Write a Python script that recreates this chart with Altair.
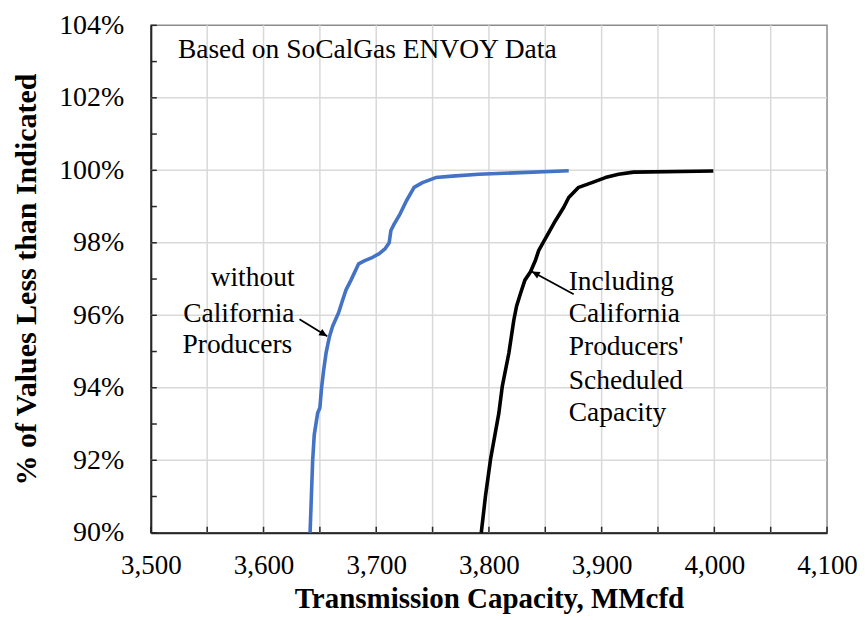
import math
import altair as alt
import pandas as pd

# ---- data ----
blue_x = [3641.3, 3643.6, 3645.0, 3648.0, 3650.0, 3651.5, 3653.4, 3655.5, 3658.4, 3661.3,
          3666.6, 3670.2, 3673.2, 3677.6, 3684.4, 3689.4, 3696.8, 3702.7, 3708.0, 3711.5,
          3713.0, 3716.0, 3721.2, 3726.8, 3733.6, 3741.0, 3752.8, 3767.5, 3791.0, 3870.8]
blue_y = [90.0, 92.0, 92.7, 93.3, 93.45, 94.0, 94.5, 94.96, 95.4, 95.7,
          96.07, 96.42, 96.7, 96.97, 97.42, 97.5, 97.6, 97.7, 97.84, 98.0,
          98.34, 98.52, 98.8, 99.16, 99.53, 99.66, 99.8, 99.84, 99.89, 99.99]

black_x = [3793.2, 3797.0, 3801.5, 3808.8, 3811.8, 3817.7, 3822.1, 3824.5, 3828.0, 3831.9,
           3836.9, 3841.3, 3844.2, 3850.7, 3859.0, 3866.4, 3870.8, 3879.6, 3891.4, 3903.3,
           3915.0, 3928.3, 3999.1]
black_y = [90.0, 91.03, 92.04, 93.3, 94.03, 94.96, 95.87, 96.25, 96.6, 96.97,
           97.2, 97.52, 97.79, 98.15, 98.61, 98.98, 99.25, 99.53, 99.66, 99.8,
           99.89, 99.95, 99.98]

x_label_values = [3500, 3600, 3700, 3800, 3900, 4000, 4100]
y_label_values = [90, 92, 94, 96, 98, 100, 102, 104]
x_grid_values = [3550, 3600, 3650, 3700, 3750, 3800, 3850, 3900, 3950, 4000, 4050]
y_grid_values = [92, 94, 96, 98, 100, 102]
x_tick_values = [3500 + 50 * i for i in range(13)]
y_tick_values = list(range(90, 105))

note_text = ["Based on SoCalGas ENVOY Data"]
note_x = [3524.0]
note_y = [103.32]

blue_label = ["without", "California", "Producers"]
blue_label_x = [3627.5, 3627.5, 3625.5]
blue_label_y = [97.04, 96.03, 95.18]

black_label = ["Including", "California", "Producers'", "Scheduled", "Capacity"]
black_label_x = [3870.8] * 5
black_label_y = [96.93, 96.03, 95.12, 94.19, 93.29]

arrows_start_x = [3631.9, 3875.2]
arrows_start_y = [95.89, 96.58]
arrows_tip_x = [3656.5, 3838.0]
arrows_tip_y = [95.42, 97.21]

# ---- layout ----
W, H = 677, 508
XMIN, XMAX, YMIN, YMAX = 3500, 4100, 90, 104
FONT = "Liberation Serif"

xs = alt.Scale(domain=[XMIN, XMAX], nice=False, zero=False)
ys = alt.Scale(domain=[YMIN, YMAX], nice=False, zero=False)

X_AX = alt.Axis(values=x_label_values, format=",d", grid=False, ticks=False,
                title="Transmission Capacity, MMcfd",
                labelPadding=20, titlePadding=6,
                labelFont=FONT, labelFontSize=27, labelColor="#000",
                titleFont=FONT, titleFontSize=29, titleFontWeight="bold",
                titleColor="#000", domainColor="#262626", domainWidth=2,
                labelFlush=False, labelOverlap=False)
Y_AX = alt.Axis(values=y_label_values, labelExpr="datum.value + '%'",
                grid=False, ticks=False,
                title="% of Values Less than Indicated",
                labelPadding=27, titlePadding=17,
                labelFont=FONT, labelFontSize=28, labelColor="#000",
                titleFont=FONT, titleFontSize=30, titleFontWeight="bold",
                titleColor="#000", domainColor="#262626", domainWidth=2,
                labelFlush=False, labelOverlap=False)


def X(field):
    return alt.X(field, scale=xs, axis=X_AX)


def Y(field):
    return alt.Y(field, scale=ys, axis=Y_AX)


series = pd.DataFrame(
    {"cap": blue_x + black_x,
     "pct": blue_y + black_y,
     "series": ["without"] * len(blue_x) + ["including"] * len(black_x),
     "order": list(range(len(blue_x))) + list(range(len(black_x)))}
)

vgrid = alt.Chart(pd.DataFrame({"gx": x_grid_values})).mark_rule(
    color="#d9d9d9", strokeWidth=1.5).encode(x=X("gx:Q"))
hgrid = alt.Chart(pd.DataFrame({"gy": y_grid_values})).mark_rule(
    color="#d9d9d9", strokeWidth=1.5).encode(y=Y("gy:Q"))

xticks = alt.Chart(pd.DataFrame({"tx": x_tick_values})).mark_rule(
    color="#262626", strokeWidth=1.5).encode(
    x=X("tx:Q"), y=alt.value(H), y2=alt.value(H - 6))
yticks = alt.Chart(pd.DataFrame({"ty": y_tick_values})).mark_rule(
    color="#262626", strokeWidth=1.5).encode(
    y=Y("ty:Q"), x=alt.value(0), x2=alt.value(6))

lines = alt.Chart(series).mark_line(strokeWidth=3.6, strokeJoin="round").encode(
    x=X("cap:Q"),
    y=Y("pct:Q"),
    color=alt.Color("series:N",
                    scale=alt.Scale(domain=["without", "including"],
                                    range=["#4472C4", "#000000"]),
                    legend=None),
    order="order:Q",
)


def text_layer(texts, tx, ty, align):
    df = pd.DataFrame({"t": texts, "x": tx, "y": ty})
    return alt.Chart(df).mark_text(
        font=FONT, fontSize=27.5, align=align, baseline="middle", color="#000").encode(
        x=X("x:Q"), y=Y("y:Q"), text="t:N")


note = text_layer(note_text, note_x, note_y, "left")
blue_txt = text_layer(blue_label, blue_label_x, blue_label_y, "right")
black_txt = text_layer(black_label, black_label_x, black_label_y, "left")

kx = W / (XMAX - XMIN)
ky = H / (YMAX - YMIN)
angles = []
for sx, sy, tx, ty in zip(arrows_start_x, arrows_start_y, arrows_tip_x, arrows_tip_y):
    dx = (tx - sx) * kx
    dy = -(ty - sy) * ky
    angles.append(math.degrees(math.atan2(dx, -dy)) % 360)

arr_df = pd.DataFrame({"sx": arrows_start_x, "sy": arrows_start_y,
                       "tx": arrows_tip_x, "ty": arrows_tip_y, "ang": angles})
arrow_lines = alt.Chart(arr_df).mark_rule(color="#000", strokeWidth=1.8).encode(
    x=X("sx:Q"), y=Y("sy:Q"), x2="tx:Q", y2="ty:Q")
arrow_heads = alt.Chart(arr_df).mark_point(
    shape="M0,0L-0.45,1L0.45,1Z", filled=True, size=260, color="#000", opacity=1).encode(
    x=X("tx:Q"), y=Y("ty:Q"),
    angle=alt.Angle("ang:Q", scale=None))

chart = alt.layer(vgrid, hgrid, lines, xticks, yticks, note, blue_txt, black_txt,
                  arrow_lines, arrow_heads).properties(
    width=W, height=H,
    autosize=alt.AutoSizeParams(type="none"),
    padding={"left": 143, "top": 17, "right": 30, "bottom": 85},
).configure_view(stroke="#8c8c8c", strokeWidth=1.5)

chart.save("out.html", embed_options={"renderer": "svg", "actions": False})
